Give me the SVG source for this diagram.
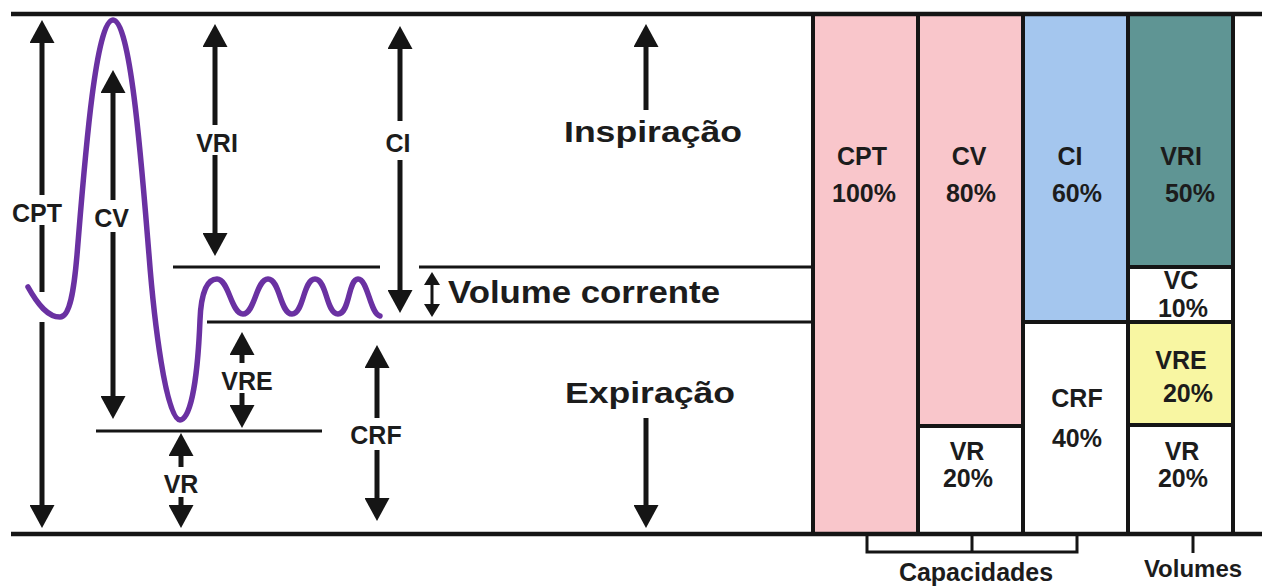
<svg xmlns="http://www.w3.org/2000/svg" width="1267" height="587" viewBox="0 0 1267 587">
<defs>
<style>
.t{font-family:"Liberation Sans",Arial,Helvetica,sans-serif;font-weight:bold;fill:#1c1c1c;text-anchor:middle;font-size:25px}
.big{font-family:"Liberation Sans",Arial,Helvetica,sans-serif;font-weight:bold;fill:#1c1c1c;font-size:30px}
.ax{stroke:#151515;stroke-width:4.5;fill:none}
.ln{stroke:#151515;stroke-width:3;fill:none}
.ar{stroke:#151515;stroke-width:5;fill:none;marker-end:url(#ah)}
.sm{stroke:#151515;stroke-width:3;fill:none;marker-end:url(#sh);marker-start:url(#sh)}
.bd{stroke:#151515;stroke-width:4;fill:none}
</style>
<marker id="ah" markerUnits="userSpaceOnUse" viewBox="0 -12.5 23 25" refX="0" refY="0" markerWidth="23" markerHeight="25" orient="auto">
<path d="M0,-12.5 L23,0 L0,12.5 z" fill="#151515"/>
</marker>
<marker id="sh" markerUnits="userSpaceOnUse" viewBox="0 -8 13 16" refX="0" refY="0" markerWidth="13" markerHeight="16" orient="auto-start-reverse">
<path d="M0,-8 L13,0 L0,8 z" fill="#151515"/>
</marker>
</defs>
<rect width="1267" height="587" fill="#ffffff"/>

<g id="bars">
<g id="bar-cpt"><rect x="813" y="14" width="105" height="520" fill="#f9c6cb"/><text class="t" x="862" y="165">CPT</text><text class="t" x="864" y="202">100%</text></g>
<g id="bar-cv"><rect x="918" y="14" width="105" height="412" fill="#f9c6cb"/><text class="t" x="969" y="165">CV</text><text class="t" x="971" y="202">80%</text></g>
<g id="bar-vr1"><rect x="918" y="426" width="105" height="108" fill="#ffffff"/><text class="t" x="967" y="460">VR</text><text class="t" x="968" y="487">20%</text></g>
<g id="bar-ci"><rect x="1023" y="14" width="105" height="308" fill="#a4c6ee"/><text class="t" x="1070" y="165">CI</text><text class="t" x="1077" y="202">60%</text></g>
<g id="bar-crf"><rect x="1023" y="322" width="105" height="212" fill="#ffffff"/><text class="t" x="1077" y="407">CRF</text><text class="t" x="1077" y="447">40%</text></g>
<g id="bar-vri"><rect x="1128" y="14" width="105" height="253" fill="#5f9594"/><text class="t" x="1181" y="165">VRI</text><text class="t" x="1190" y="202">50%</text></g>
<g id="bar-vc"><rect x="1128" y="267" width="105" height="55" fill="#ffffff"/><text class="t" x="1181" y="289">VC</text><text class="t" x="1183" y="317">10%</text></g>
<g id="bar-vre"><rect x="1128" y="322" width="105" height="103" fill="#f8f6a2"/><text class="t" x="1181" y="369">VRE</text><text class="t" x="1188" y="402">20%</text></g>
<g id="bar-vr2"><rect x="1128" y="425" width="105" height="109" fill="#ffffff"/><text class="t" x="1182" y="460">VR</text><text class="t" x="1183" y="487">20%</text></g>
<g id="bar-borders">
<path class="bd" d="M813,14 V534 M918,14 V534 M1023,14 V534 M1128,14 V534 M1233,14 V534"/>
<path class="bd" d="M918,426 H1023 M1023,322 H1128 M1128,267 H1233 M1128,322 H1233 M1128,425 H1233"/>
</g>
</g>

<g id="axes">
<path class="ax" d="M11,14 H1262 M11,534 H1262"/>
<path class="ln" d="M173,267 H380 M419,267 H813 M207,322 H813 M96,431 H322"/>
</g>

<g id="brackets">
<path class="ln" d="M867,535 V552 H1077 V535 M972,535 V552"/>
<path class="ln" d="M1193,535 V553"/>
<text class="t" x="976" y="581">Capacidades</text>
<text class="t" x="1193" y="577" style="font-size:24px">Volumes</text>
</g>

<g id="curve">
<path d="M28,287 C38,305 48,317 60,317 C70,317 74,290 77,255 C84,170 95,20 113,20 C131,20 142,170 149,255 C154,320 166,420 180,420 C192,420 198,370 200,320 C201,293 207,279 217,279 C229,279 231,314 243,314 C255,314 256,279 268,279 C280,279 280,314 292,314 C304,314 303,279 315,279 C327,279 326,314 338,314 C350,314 348,279 358,279 C368,279 370,314 380,316" fill="none" stroke="#6a31a2" stroke-width="5.5" stroke-linecap="round" stroke-linejoin="round"/>
</g>

<g id="connectors">
<path class="ar" d="M42,195 V43"/>
<path class="ln" d="M42,225 V292" style="stroke-width:5"/>
<path class="ar" d="M42,322 V505"/>
<path class="ar" d="M113,200 V93"/>
<path class="ar" d="M113,232 V396"/>
<path class="ar" d="M215,125 V47"/>
<path class="ar" d="M215,155 V233"/>
<path class="ar" d="M400,121 V49"/>
<path class="ar" d="M400,160 V290"/>
<path class="ar" d="M242,363 V355"/>
<path class="ar" d="M242,393 V405"/>
<path class="ar" d="M181,467 V456"/>
<path class="ar" d="M181,497 V505"/>
<path class="ar" d="M377,418 V368"/>
<path class="ar" d="M377,450 V498"/>
<path class="ar" d="M646,110 V47"/>
<path class="ar" d="M646,418 V505"/>
<path class="sm" d="M432,285 V304"/>
</g>

<g id="labels">
<text class="t" x="37" y="222">CPT</text>
<text class="t" x="111.5" y="227">CV</text>
<text class="t" x="217" y="152">VRI</text>
<text class="t" x="398" y="152">CI</text>
<text class="t" x="247" y="390">VRE</text>
<text class="t" x="181" y="493">VR</text>
<text class="t" x="376" y="444">CRF</text>
<text class="big" x="564" y="142" textLength="178" lengthAdjust="spacingAndGlyphs">Inspiração</text>
<text class="big" x="448" y="303" textLength="272" lengthAdjust="spacingAndGlyphs" style="font-size:31px">Volume corrente</text>
<text class="big" x="565" y="403" textLength="170" lengthAdjust="spacingAndGlyphs">Expiração</text>
</g>
</svg>
